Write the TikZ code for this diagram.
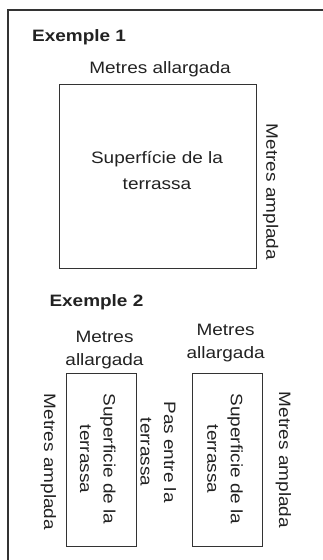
\documentclass[tikz,border=0pt]{standalone}
\usepackage{fontspec}
\setmainfont{Liberation Sans}[FakeStretch=1.15]
\definecolor{ink}{HTML}{222222}
\definecolor{edge}{HTML}{333333}
\begin{document}
\begin{tikzpicture}[x=1pt,y=1pt,
  lbl/.style={text=ink,inner sep=0pt,align=center,font=\fontsize{16.5}{23.5}\selectfont},
  rlbl/.style={lbl,rotate=-90},
  ttl/.style={text=ink,inner sep=0pt,font=\fontsize{16.5}{20}\selectfont\bfseries},
  terr/.style={draw=edge,line width=1pt}]
\useasboundingbox (0,0) rectangle (322,-560);
\fill[white] (0,0) rectangle (322,-560);
\draw[edge,line width=1.4pt] (8,-562) -- (8,-10) -- (324,-10);
% Exemple 1
\node[ttl,anchor=base west] (t1) at (32,-41) {Exemple 1};
\node[terr,minimum width=196.4pt,minimum height=184pt,anchor=north west] (b1) at (59.3,-84.3) {};
\node[lbl,anchor=base] (a1) at (160,-73) {Metres allargada};
\node[lbl,font=\fontsize{16.5}{26}\selectfont] (s1) at (157,-171) {Superfície de la\\terrassa};
\node[rlbl] (m1) at (270.7,-192) {Metres amplada};
% Exemple 2
\node[ttl,anchor=base west] (t2) at (49.3,-306.7) {Exemple 2};
\node[terr,minimum width=70pt,minimum height=173pt,anchor=north west] (b2) at (65.7,-372.7) {};
\node[terr,minimum width=70pt,minimum height=173pt,anchor=north west] (b3) at (191.7,-372.7) {};
\node[lbl] (a2) at (104.5,-350) {Metres\\allargada};
\node[lbl] (a3) at (225.6,-343) {Metres\\allargada};
\node[rlbl] (m2) at (48.3,-462) {Metres amplada};
\node[rlbl] (s2) at (97.8,-459) {Superficie de la\\terrassa};
\node[rlbl] (p1) at (158.3,-452) {Pas entre la\\terrassa};
\node[rlbl] (s3) at (225,-459) {Superficie de la\\terrassa};
\node[rlbl] (m3) at (283.3,-460) {Metres amplada};
\end{tikzpicture}
\end{document}
